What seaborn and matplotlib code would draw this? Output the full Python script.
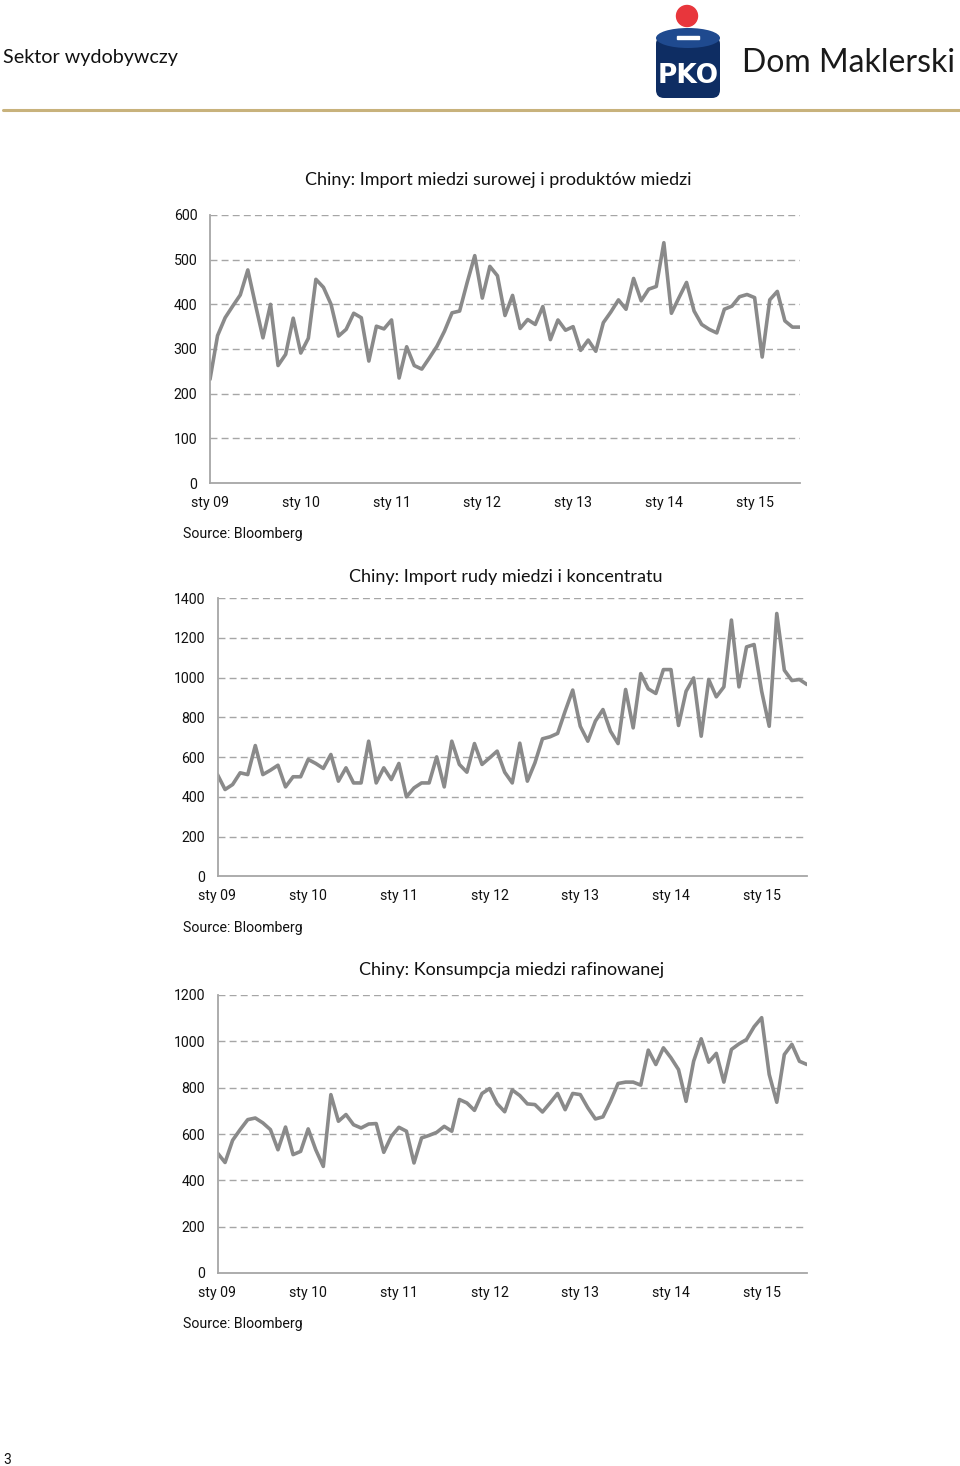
import numpy as np
import pandas as pd
import matplotlib
matplotlib.use("Agg")
import matplotlib.pyplot as plt
import matplotlib.patches as mpatches
import seaborn as sns

# DANE (miesięcznie, sty 2009 - lip 2015)
import_miedzi = [232, 330, 370, 396, 421, 477, 400, 325, 400, 263,
                 288, 369, 291, 324, 456, 438, 400, 329, 344, 380,
                 370, 273, 351, 345, 365, 235, 305, 263, 255, 280,
                 306, 340, 381, 385, 449, 509, 414, 485, 464, 375,
                 420, 346, 366, 355, 395, 321, 365, 342, 350, 297,
                 320, 295, 359, 383, 410, 389, 458, 408, 434, 440,
                 538, 380, 415, 449, 385, 355, 344, 336, 389, 396,
                 417, 422, 415, 282, 410, 429, 363, 349, 349]

import_rudy = [512, 437, 462, 521, 512, 658, 512, 534, 559, 450,
               501, 501, 588, 568, 543, 613, 479, 546, 470, 470,
               680, 470, 546, 487, 568, 400, 445, 470, 470, 601,
               450, 680, 563, 524, 668, 563, 596, 630, 524, 470,
               670, 479, 571, 692, 702, 719, 831, 937, 755, 680,
               781, 839, 730, 668, 940, 747, 1020, 943, 920, 1040,
               1040, 759, 931, 998, 705, 990, 903, 953, 1289, 953,
               1154, 1166, 931, 755, 1322, 1037, 985, 990, 965]

konsumpcja = [518, 477, 573, 619, 662, 669, 648, 619, 532, 630,
              511, 525, 622, 532, 460, 770, 655, 684, 640, 626,
              643, 645, 521, 590, 629, 612, 475, 583, 594, 607,
              633, 612, 749, 734, 702, 775, 796, 731, 696, 790,
              766, 730, 727, 695, 734, 775, 705, 775, 770, 713,
              665, 674, 741, 818, 824, 824, 811, 962, 900, 972,
              929, 878, 741, 914, 1011, 910, 948, 824, 965, 989,
              1008, 1063, 1102, 857, 737, 943, 987, 914, 900]

x_labels = ["sty 09", "sty 10", "sty 11", "sty 12", "sty 13", "sty 14", "sty 15"]

titles = ["Chiny: Import miedzi surowej i produktów miedzi",
          "Chiny: Import rudy miedzi i koncentratu",
          "Chiny: Konsumpcja miedzi rafinowanej"]

# USTAWIENIA
sns.set_style("white")
plt.rcParams["font.family"] = ["Roboto", "DejaVu Sans"]

W, H = 960, 1466
LINE_COLOR = "#8a8a8a"
GRID_COLOR = "#a6a6a6"
AXIS_COLOR = "#a6a6a6"


def ax_rect(left, top, right, bottom):
    return [left / W, 1 - bottom / H, (right - left) / W, (bottom - top) / H]


def draw_chart(fig, rect, values, ymax, ystep, title, title_xy, source_y):
    ax = fig.add_axes(ax_rect(*rect))
    df = pd.DataFrame({"miesiac": np.arange(len(values)), "wartosc": values})
    sns.lineplot(data=df, x="miesiac", y="wartosc", color=LINE_COLOR,
                 linewidth=2.6, ax=ax)
    ax.set_xlim(0, len(values) - 1)
    ax.set_ylim(0, ymax)
    yt = np.arange(0, ymax + 1, ystep)
    ax.set_yticks(yt)
    ax.set_yticklabels([str(v) for v in yt])
    ax.set_xticks(np.arange(0, 12 * len(x_labels), 12))
    ax.set_xticklabels(x_labels)
    for v in yt[1:]:
        ax.axhline(v, color=GRID_COLOR, linewidth=1.0, linestyle=(0, (5, 3)),
                   zorder=0)
    for s in ["top", "right"]:
        ax.spines[s].set_visible(False)
    for s in ["left", "bottom"]:
        ax.spines[s].set_color(AXIS_COLOR)
        ax.spines[s].set_linewidth(1.3)
    ax.tick_params(axis="both", direction="out", length=3.5, width=1,
                   color=AXIS_COLOR, labelsize=10.2, labelcolor="#111111")
    ax.tick_params(axis="y", pad=5.5)
    ax.tick_params(axis="x", pad=5.5)
    ax.set_xlabel("")
    ax.set_ylabel("")
    fig.text(title_xy[0] / W, 1 - title_xy[1] / H, title, ha="center",
             va="center", fontsize=13, family=["Lato", "DejaVu Sans"],
             color="#111111")
    fig.text(183 / W, 1 - source_y / H, "Source: Bloomberg", ha="left",
             va="center", fontsize=10.2, color="#111111")
    return ax


fig = plt.figure(figsize=(W / 100, H / 100), dpi=100)
fig.patch.set_facecolor("white")

draw_chart(fig, (210, 215, 800, 483), import_miedzi, 600, 100,
           titles[0], (498, 180), 534)
draw_chart(fig, (217.5, 598, 807, 876.4), import_rudy, 1400, 200,
           titles[1], (506, 577), 928)
draw_chart(fig, (217.5, 995, 807, 1273), konsumpcja, 1200, 200,
           titles[2], (512, 970), 1324)

# NAGŁÓWEK
fig.text(3 / W, 1 - 58 / H, "Sektor wydobywczy", ha="left", va="center",
         fontsize=14.2, family=["Lato", "DejaVu Sans"], color="#111111")
fig.add_artist(plt.Line2D([3 / W, 1.0], [1 - 110 / H, 1 - 110 / H],
                          color="#c8b27c", linewidth=2.2))

# LOGO
logo = fig.add_axes([0, 0, 1, 1], zorder=5)
logo.set_xlim(0, W)
logo.set_ylim(H, 0)
logo.axis("off")
logo.add_patch(mpatches.Circle((687, 16), 10.5, color="#e8363c"))
logo.add_patch(mpatches.FancyBboxPatch((656, 36), 64, 62,
                                       boxstyle="round,pad=0,rounding_size=8",
                                       facecolor="#0e2d63", edgecolor="none"))
logo.add_patch(mpatches.Ellipse((688, 38), 64, 20, facecolor="#1f4a8f",
                                edgecolor="none"))
logo.add_patch(mpatches.Rectangle((677, 36), 22, 3, facecolor="white"))
logo.text(688, 76, "PKO", ha="center", va="center", fontsize=19,
          fontweight="bold", color="white", family="DejaVu Sans Condensed")
logo.text(742, 63, "Dom Maklerski", ha="left", va="center", fontsize=23,
          family=["Lato", "DejaVu Sans"], color="#1a1a1a")

# NUMER STRONY
fig.text(3 / W, 1 - 1460 / H, "3", ha="left", va="center", fontsize=10,
         color="#111111")

fig.savefig("out.png", dpi=100)
